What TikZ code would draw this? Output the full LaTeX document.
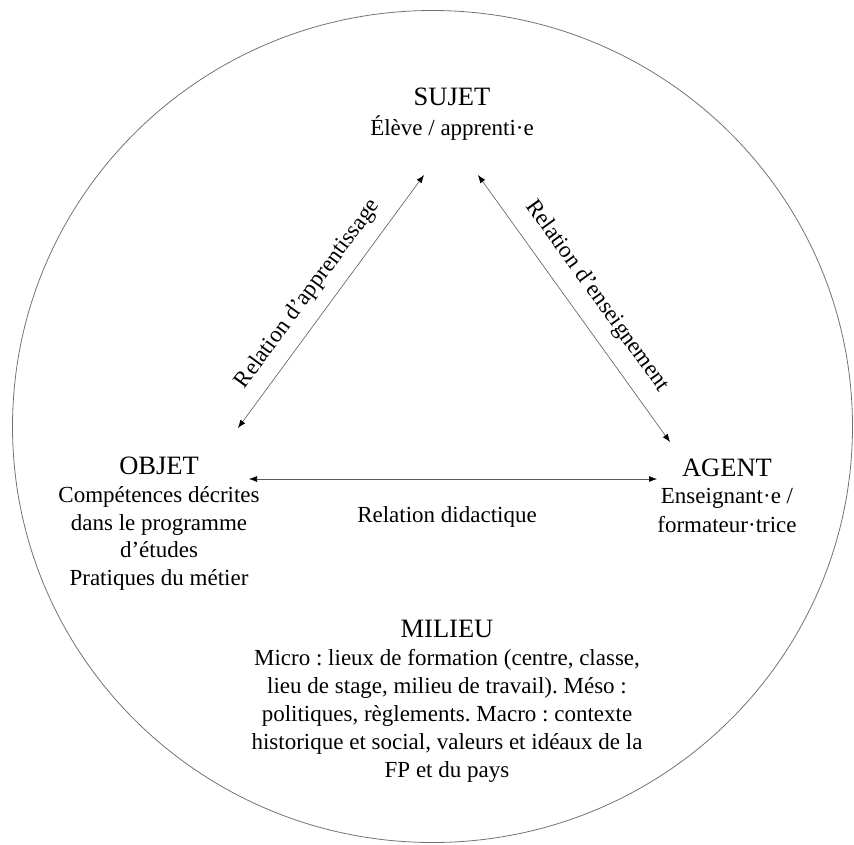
\documentclass[tikz,border=0pt]{standalone}
\usepackage{fontspec}
\setmainfont{Liberation Serif}
\usetikzlibrary{arrows.meta}
\frenchspacing
\begin{document}
\begin{tikzpicture}[x=1pt,y=-1pt,
  head/.style={anchor=base,inner sep=0pt,font=\fontsize{26.5}{30}\selectfont},
  txt/.style={anchor=base,inner sep=0pt,font=\fontsize{23}{28}\selectfont},
  rlabel/.style={inner sep=0pt,font=\fontsize{23}{28}\selectfont},
  conn/.style={draw=black!65,line width=0.6pt,{Latex[length=8pt,width=6pt,black]}-{Latex[length=8pt,width=6pt,black]}},
  ring/.style={draw=black!55,line width=0.8pt}]
\useasboundingbox (0,0) rectangle (854,844);
\draw[ring] (432.5,426.5) ellipse [x radius=420, y radius=416];
% SUJET
\node[head] (sujet) at (452,105) {SUJET};
\node[txt] (sujet1) at (452,135) {Élève / apprenti·e};
% OBJET
\node[head] (objet) at (159,474) {OBJET};
\node[txt] (objet1) at (159,502) {Compétences décrites};
\node[txt] (objet2) at (159,530) {dans le programme};
\node[txt] (objet3) at (159,557) {d’études};
\node[txt] (objet4) at (159,585) {Pratiques du métier};
% AGENT
\node[head] (agent) at (727,476) {AGENT};
\node[txt] (agent1) at (727,503) {Enseignant·e /};
\node[txt] (agent2) at (727,532) {formateur·trice};
% didactique
\node[txt] (did) at (447,522) {Relation didactique};
% MILIEU
\node[head] (milieu) at (447,637) {MILIEU};
\node[txt] (m1) at (447,665) {Micro : lieux de formation (centre, classe,};
\node[txt] (m2) at (447,693) {lieu de stage, milieu de travail). Méso :};
\node[txt] (m3) at (447,721) {politiques, règlements. Macro : contexte};
\node[txt] (m4) at (447,749) {historique et social, valeurs et idéaux de la};
\node[txt] (m5) at (447,777) {FP et du pays};
% connectors
\coordinate (os) at (238,428);
\coordinate (so) at (424,175);
\coordinate (sa) at (478,175);
\coordinate (as) at (670,442);
\coordinate (oa) at (249,479);
\coordinate (ao) at (657,479);
\draw[conn] (os) -- (so);
\draw[conn] (sa) -- (as);
\draw[conn] (oa) -- (ao);
% rotated labels
\node[rlabel,rotate=53.7] (lapp) at (308,294) {Relation d’apprentissage};
\node[rlabel,rotate=-54.3] (lens) at (597,296) {Relation d’enseignement};
\end{tikzpicture}
\end{document}
